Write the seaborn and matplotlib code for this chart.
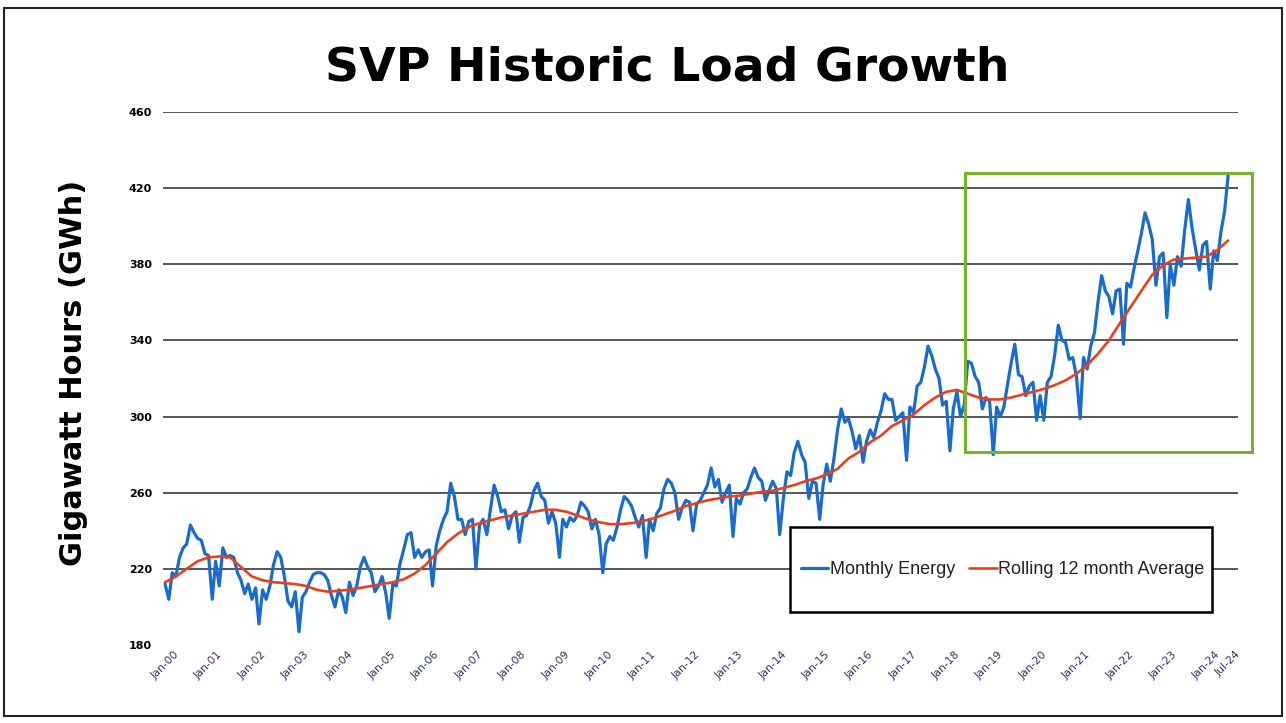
import pandas as pd
import matplotlib
matplotlib.use("Agg")
import matplotlib.pyplot as plt
import matplotlib.dates as mdates
from matplotlib.patches import Rectangle
import seaborn as sns

# Monthly energy (GWh), Jan-2000 .. Jul-2024, one row per year
monthly_energy = [
    212, 204, 218, 216, 226, 231, 233, 243, 239, 236, 235, 228,  # 2000
    227, 204, 224, 211, 231, 226, 227, 226, 218, 214, 207, 212,  # 2001
    204, 210, 191, 209, 204, 211, 222, 229, 226, 216, 203, 200,  # 2002
    208, 187, 205, 208, 213, 217, 218, 218, 217, 214, 206, 200,  # 2003
    209, 205, 197, 213, 206, 211, 221, 226, 221, 218, 208, 211,  # 2004
    216, 207, 194, 212, 211, 223, 230, 238, 239, 226, 230, 226,  # 2005
    229, 230, 211, 232, 240, 246, 250, 265, 258, 246, 246, 238,  # 2006
    245, 246, 220, 243, 246, 238, 251, 264, 258, 250, 251, 241,  # 2007
    248, 250, 234, 247, 248, 253, 261, 265, 258, 256, 244, 250,  # 2008
    244, 226, 246, 242, 247, 245, 248, 255, 253, 250, 241, 246,  # 2009
    238, 218, 233, 237, 235, 242, 251, 258, 256, 253, 247, 242,  # 2010
    248, 226, 246, 240, 249, 252, 262, 267, 265, 260, 246, 252,  # 2011
    256, 255, 240, 254, 256, 260, 264, 273, 263, 267, 255, 260,  # 2012
    264, 237, 257, 254, 260, 262, 268, 273, 268, 266, 256, 261,  # 2013
    266, 262, 238, 257, 271, 269, 281, 287, 280, 276, 257, 266,  # 2014
    265, 246, 264, 275, 266, 278, 293, 304, 297, 299, 292, 283,  # 2015
    290, 276, 287, 293, 289, 297, 303, 312, 309, 309, 298, 300,  # 2016
    302, 277, 305, 302, 316, 318, 326, 337, 332, 325, 320, 306,  # 2017
    308, 282, 304, 313, 300, 306, 329, 328, 321, 318, 304, 310,  # 2018
    308, 280, 305, 300, 305, 317, 328, 338, 322, 321, 311, 316,  # 2019
    318, 298, 311, 298, 318, 321, 332, 348, 340, 339, 330, 331,  # 2020
    321, 299, 331, 325, 337, 344, 360, 374, 366, 363, 354, 366,  # 2021
    367, 338, 370, 368, 378, 387, 396, 407, 401, 393, 369, 384,  # 2022
    386, 352, 380, 369, 384, 379, 398, 414, 399, 388, 377, 390,  # 2023
    392, 367, 387, 382, 397, 408, 427,                           # 2024
]

# Rolling 12 month average, read every 3 months from Jan-2000
rolling_avg = [
    213, 216, 220, 224, 226, 226.5, 226, 221, 216, 214,
    213, 212.5, 212, 211, 209, 208, 208.5, 209, 210, 211,
    212, 213, 214.5, 217.5, 222, 228, 234, 238.5, 242, 244,
    245.5, 247, 248, 249, 250, 251, 251, 250, 248, 246,
    244.5, 243.5, 243.5, 244, 245, 246.5, 248.5, 250.5, 253, 254.5,
    256, 257, 258, 258.5, 259.5, 260.5, 261, 262.5, 264, 266,
    267.5, 269.5, 272.5, 278, 281.5, 286.5, 290, 295, 298, 301,
    306, 310, 313, 314, 312, 310, 309, 309, 310, 311.5,
    313, 314.5, 316.5, 319, 322.5, 327, 333, 340, 349, 357.5,
    366, 374.5, 379.5, 382.5, 383, 383.5, 384, 387.5, 392.5,
]

tick_labels = [f"Jan-{y:02d}" for y in range(25)] + ["Jul-24"]
y_ticks = [180, 220, 260, 300, 340, 380, 420, 460]

# highlighted recent period (green box)
box_start, box_end = "2018-06-07", "2025-01-18"
box_low, box_high = 281.4, 428

months = pd.date_range("2000-01-01", periods=len(monthly_energy), freq="MS")
quarters = pd.date_range("2000-01-01", periods=len(rolling_avg), freq="3MS")
tick_dates = list(pd.date_range("2000-01-01", "2024-01-01", freq="YS")) + [pd.Timestamp("2024-07-01")]

sns.set_style("white")
plt.rcParams["font.family"] = ["DejaVu Sans"]
plt.rcParams["text.color"] = "black"
plt.rcParams["axes.labelcolor"] = "black"
plt.rcParams["ytick.color"] = "black"

fig = plt.figure(figsize=(12.86, 7.23), dpi=100)
ax = fig.add_axes([0.1268, 0.1079, 0.836, 0.7372])

sns.lineplot(x=months, y=monthly_energy, color="#1a6ccc", lw=2.3, ax=ax,
             label="Monthly Energy", zorder=3)
sns.lineplot(x=quarters, y=rolling_avg, color="#e8401c", lw=1.9, ax=ax,
             label="Rolling 12 month Average", zorder=4)

# gridlines (none on the 180 baseline)
for y in y_ticks[1:]:
    ax.axhline(y, color="#3a3a3a", lw=1.2, zorder=1)

ax.set_ylim(180, 460)
ax.set_yticks(y_ticks)
ax.set_yticklabels([str(v) for v in y_ticks], fontsize=8, fontweight="bold", color="black")
ax.set_xlim(pd.Timestamp("2000-01-01") - pd.Timedelta(days=17),
            pd.Timestamp("2024-07-01") + pd.Timedelta(days=84))
ax.set_xticks(tick_dates)
ax.set_xticklabels(tick_labels, rotation=45, ha="center", fontsize=7.8, color="#2b3566")
ax.tick_params(axis="x", length=0, pad=3)
ax.tick_params(axis="y", length=0, pad=8)
ax.set_xlabel("")
ax.set_ylabel("Gigawatt Hours (GWh)", fontsize=22, fontweight="bold", color="black")
ax.yaxis.set_label_coords(-0.0698, 0.511)
sns.despine(ax=ax, left=True, bottom=True)

# green highlight box
x0 = mdates.date2num(pd.Timestamp(box_start))
x1 = mdates.date2num(pd.Timestamp(box_end))
ax.add_patch(Rectangle((x0, box_low), x1 - x0, box_high - box_low, fill=False,
                       edgecolor="#77b32f", lw=2.2, clip_on=False, zorder=5))

# legend box
ax.add_patch(Rectangle((0.583, 0.062), 0.393, 0.159, transform=ax.transAxes,
                       facecolor="white", edgecolor="black", lw=1.8, zorder=6))
leg = ax.legend(loc="center", bbox_to_anchor=(0.781, 0.141), ncol=2, frameon=False,
                prop={"family": "Liberation Sans", "size": 13}, handlelength=1.5,
                handletextpad=0.1, columnspacing=0.8)
leg.set_zorder(7)
for t in leg.get_texts():
    t.set_color("#222222")

fig.text(0.519, 0.906, "SVP Historic Load Growth", ha="center", va="center",
         fontsize=34, fontweight="bold", color="black")

# outer frame
fig.add_artist(Rectangle((4 / 1286, 1 - 716 / 723), 1278 / 1286, 708 / 723,
                         transform=fig.transFigure, fill=False, edgecolor="#222222", lw=1.5))

fig.savefig("out.png", dpi=100)
